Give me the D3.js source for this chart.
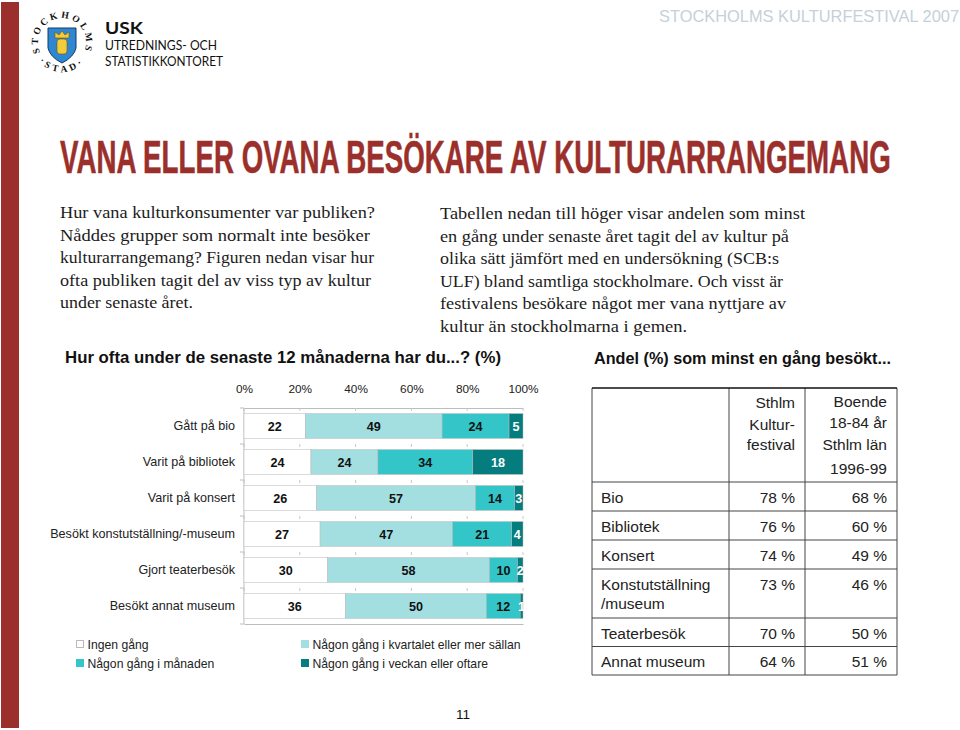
<!DOCTYPE html>
<html><head><meta charset="utf-8">
<script src="https://cdn.jsdelivr.net/npm/d3@7/dist/d3.min.js"></script>
<style>html,body{margin:0;padding:0;background:#fff}svg{display:block}</style>
</head><body><svg id="c" width="960" height="730"></svg>
<script>
const categories=["Gått på bio","Varit på bibliotek","Varit på konsert","Besökt konstutställning/-museum","Gjort teaterbesök","Besökt annat museum"];
const seriesNames=["Ingen gång","Någon gång i kvartalet eller mer sällan","Någon gång i månaden","Någon gång i veckan eller oftare"];
const ingen=[22,24,26,27,30,36];
const kvartal=[49,24,57,47,58,50];
const manad=[24,34,14,21,10,12];
const vecka=[5,18,3,4,2,1];
const colors=["#ffffff","#a3dfe0","#33c5c7","#057c7e"];
const ticks=[0,20,40,60,80,100];
const tableHead1=["Sthlm","Kultur-","festival"];
const tableHead2=["Boende","18-84 år","Sthlm län","1996-99"];
const tableRows=[["Bio"],["Bibliotek"],["Konsert"],["Konstutställning","/museum"],["Teaterbesök"],["Annat museum"]];
const festival=[78,76,74,73,70,64];
const boende=[68,60,49,46,50,51];
const leftText=["Hur vana kulturkonsumenter var publiken?","Nåddes grupper som normalt inte besöker","kulturarrangemang? Figuren nedan visar hur","ofta publiken tagit del av viss typ av kultur","under senaste året."];
const leftWidths=[315,310,314,311,133];
const rightText=["Tabellen nedan till höger visar andelen som minst","en gång under senaste året tagit del av kultur på","olika sätt jämfört med en undersökning (SCB:s","ULF) bland samtliga stockholmare. Och visst är","festivalens besökare något mer vana nyttjare av","kultur än stockholmarna i gemen."];
const rightWidths=[365,349,339,343,346,247];

const svg=d3.select("#c");
const sans="'Liberation Sans',Arial,sans-serif", serif="'Liberation Serif',serif", gill="Lato,sans-serif";
const txt=(x,y,s,o={})=>{const t=svg.append("text").attr("x",x).attr("y",y).text(s)
 .attr("font-family",o.f||sans).attr("font-size",o.s||14).attr("fill",o.c||"#111")
 .attr("text-anchor",o.a||"start").attr("font-weight",o.w||"normal");
 if(o.l)t.attr("textLength",o.l).attr("lengthAdjust","spacingAndGlyphs");return t;};

// page furniture
svg.append("rect").attr("x",1).attr("y",2).attr("width",18).attr("height",726).attr("fill","#9b2f2b");
txt(959,22,"STOCKHOLMS KULTURFESTIVAL 2007",{s:16.4,c:"#c6d0d8",a:"end"});
txt(105,33.5,"USK",{s:17,w:"bold",c:"#111",l:38,f:gill});
txt(105,50,"UTREDNINGS- OCH",{s:13,l:112,f:gill});
txt(105,65.5,"STATISTIKKONTORET",{s:13,l:118,f:gill});

// emblem
const logo=svg.append("g").attr("transform","translate(62,42)");
logo.append("path").attr("d","M-14,-14 H14 V6 Q12,15 0,21 Q-12,15 -14,6 Z").attr("fill","#2f86d1").attr("stroke","#123a66").attr("stroke-width",1);
logo.append("rect").attr("x",-5).attr("y",-3).attr("width",10).attr("height",15).attr("rx",3).attr("fill","#f4cc3a").attr("stroke","#6d5410").attr("stroke-width",.6);
logo.append("path").attr("d","M-7,-4 L-7,-10 L-3,-7 L0,-11 L3,-7 L7,-10 L7,-4 Z").attr("fill","#f4cc3a").attr("stroke","#6d5410").attr("stroke-width",.6);
logo.append("path").attr("id","ringTop").attr("d","M-20,13.3 A24,24 0 1 1 20,13.3").attr("fill","none");
logo.append("path").attr("id","ringBot").attr("d","M-24,18 A30,30 0 0 0 24,18").attr("fill","none");
logo.append("text").attr("font-family",serif).attr("font-size",9.5).attr("font-weight","bold").attr("fill","#111")
 .append("textPath").attr("href","#ringTop").attr("startOffset","50%").attr("text-anchor","middle").attr("letter-spacing",2.8).text("STOCKHOLMS");
logo.append("text").attr("font-family",serif).attr("font-size",9.5).attr("font-weight","bold").attr("fill","#111")
 .append("textPath").attr("href","#ringBot").attr("startOffset","50%").attr("text-anchor","middle").attr("letter-spacing",3.5).text("·STAD·");

// heading
const head=txt(0,0,"VANA ELLER OVANA BESÖKARE AV KULTURARRANGEMANG",{s:24,w:"bold",c:"#9b2f2b"}).attr("stroke","#9b2f2b").attr("stroke-width",.3);
const headLen=head.node().getComputedTextLength();
head.attr("transform",`translate(60,173) scale(${831/headLen},${33/(24*0.716)})`);

// intro text
leftText.forEach((s,i)=>txt(60,218+i*22.6,s,{f:serif,s:17.5,c:"#1c1c1c",l:leftWidths[i]}));
rightText.forEach((s,i)=>txt(440,219+i*22.6,s,{f:serif,s:17.5,c:"#1c1c1c",l:rightWidths[i]}));
txt(65,363,"Hur ofta under de senaste 12 månaderna har du...? (%)",{s:15.8,w:"bold",l:436});
txt(594,364,"Andel (%) som minst en gång besökt...",{s:15.8,w:"bold",l:297});

// chart
const series=[ingen,kvartal,manad,vecka];
const x=d3.scaleLinear().domain([0,100]).range([244,523]);
const y=d3.scaleBand().domain(categories).range([408,624]).paddingInner(0.31).paddingOuter(0.155);
const rows=categories.map((c,i)=>{const v=series.map(s=>s[i]),t=d3.sum(v);let a=0;
 return {c,parts:v.map((d,k)=>{const p={d,k,x0:a/t*100,x1:(a+d)/t*100};a+=d;return p;})};});

const gridC="#c9c9c9";
const topAxis=svg.append("g").attr("transform","translate(0,408)")
 .call(d3.axisTop(x).tickValues(ticks).tickFormat(d=>d+"%").tickSize(0).tickPadding(15));
topAxis.selectAll("text").attr("font-family",sans).attr("font-size",11.8).attr("fill","#222");
topAxis.select(".domain").attr("stroke","#bdbdbd");
svg.append("g").selectAll("line").data(ticks).join("line")
 .attr("x1",d=>x(d)).attr("x2",d=>x(d)).attr("y1",408).attr("y2",624).attr("stroke",gridC).attr("stroke-width",1).attr("stroke-dasharray","3 33");
const bottomAxis=svg.append("g").attr("transform","translate(0,624)")
 .call(d3.axisBottom(x).tickValues(ticks).tickFormat("").tickSize(0));
bottomAxis.select(".domain").attr("stroke","#bdbdbd");
const leftLines=svg.append("g");
leftLines.append("line").attr("x1",244).attr("x2",244).attr("y1",408).attr("y2",624).attr("stroke","#bdbdbd");
leftLines.selectAll(".t").data(d3.range(7)).join("line").attr("x1",240).attr("x2",244)
 .attr("y1",i=>408+i*36).attr("y2",i=>408+i*36).attr("stroke","#bdbdbd");

const g=svg.selectAll(".row").data(rows).join("g").attr("class","row");
g.selectAll("rect").data(r=>r.parts.map(p=>({...p,c:r.c}))).join("rect")
 .attr("x",p=>x(p.x0)).attr("width",p=>x(p.x1)-x(p.x0)).attr("y",p=>y(p.c)).attr("height",y.bandwidth())
 .attr("fill",p=>colors[p.k]).attr("stroke","#b8b8b8").attr("stroke-width",.5);
g.selectAll(".v").data(r=>r.parts.map(p=>({...p,c:r.c}))).join("text").attr("class","v")
 .attr("x",p=>(x(p.x0)+x(p.x1))/2).attr("y",p=>y(p.c)+y.bandwidth()/2+4.5)
 .attr("text-anchor","middle").attr("font-family",sans).attr("font-size",12.6).attr("font-weight","bold")
 .attr("fill",p=>p.k===3?"#fff":"#111").text(p=>p.d);
g.append("text").attr("x",235).attr("y",r=>y(r.c)+y.bandwidth()/2+4.3).attr("text-anchor","end")
 .attr("font-family",sans).attr("font-size",12.6).attr("fill","#222").text(r=>r.c);

// legend
[[76,644,0],[301,644,1],[76,663,2],[301,663,3]].forEach(([lx,ly,k])=>{
 svg.append("rect").attr("x",lx+.5).attr("y",ly-3.5).attr("width",7).attr("height",7).attr("fill",colors[k]).attr("stroke",k===0?"#bbb":colors[k]);
 txt(lx+11.5,ly+4.5,seriesNames[k],{s:12.2,c:"#222"});
});

// page number
txt(463,719,"11",{s:13.5,a:"middle"});

// table
const tx=[592,729,805,897], ty=[388,482,511,540,569,618,646.5,675];
const tb=svg.append("g").attr("stroke","#444").attr("stroke-width",1);
tx.forEach(v=>tb.append("line").attr("x1",v).attr("x2",v).attr("y1",388).attr("y2",675));
ty.forEach((v,i)=>tb.append("line").attr("x1",592).attr("x2",897).attr("y1",v).attr("y2",v).attr("stroke",i?"#444":"#111").attr("stroke-width",i?1:1.5));
const ts={s:15.5,c:"#222"};
[408,430,450].forEach((yy,i)=>txt(795,yy,tableHead1[i],{...ts,a:"end"}));
[407,428,450,474].forEach((yy,i)=>txt(887,yy,tableHead2[i],{...ts,a:"end"}));
const rowY=[503,532,561,590,639,667];
tableRows.forEach((r,i)=>{
 r.forEach((s,j)=>txt(601,rowY[i]+j*19,s,ts));
 txt(795,rowY[i],festival[i]+" %",{...ts,a:"end"});
 txt(887,rowY[i],boende[i]+" %",{...ts,a:"end"});
});
</script></body></html>
